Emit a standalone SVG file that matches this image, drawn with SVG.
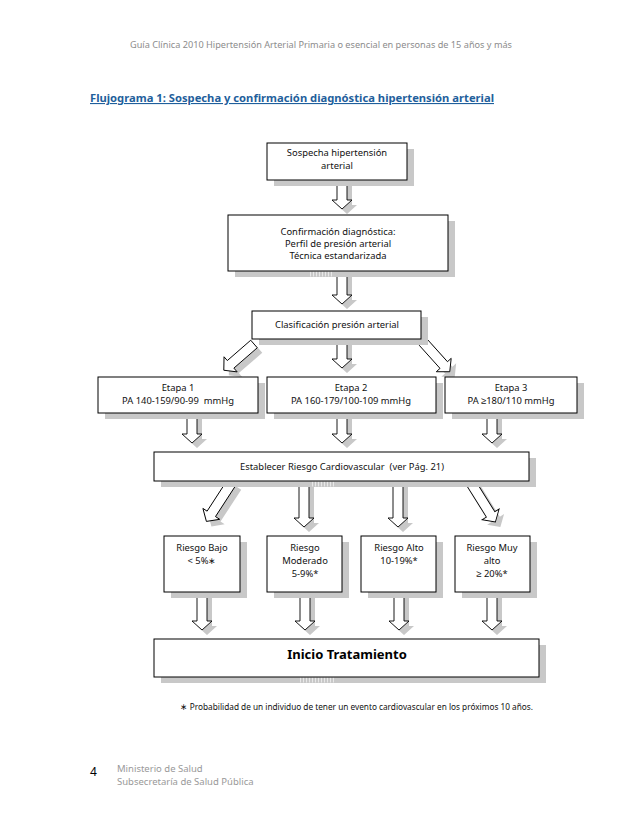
<svg xmlns="http://www.w3.org/2000/svg" xmlns:xlink="http://www.w3.org/1999/xlink" width="638" height="826" viewBox="0 0 638 826">
<style>
.bg{fill:#fff}
.box{fill:#fff;stroke:#000;stroke-width:1}
.bsh{fill:#c8c8c8}
.ash{fill:#c8c8c8;stroke:none}
.arr{fill:#fff;stroke:#000;stroke-width:0.9;stroke-linejoin:miter}
.t{font-family:"Noto Sans","Liberation Sans",sans-serif;font-size:9.4px;fill:#111;text-anchor:middle}
.big{font-family:"Noto Sans","Liberation Sans",sans-serif;font-size:13px;font-weight:bold;fill:#000;text-anchor:middle}
.hdr{font-family:"Noto Sans","Liberation Sans",sans-serif;font-size:9.5px;fill:#8c8c8c}
.ttl{font-family:"Noto Sans","Liberation Sans",sans-serif;font-size:11px;font-weight:bold;fill:#1f5f9c;text-decoration:underline}
.fn{font-family:"Noto Sans","Liberation Sans",sans-serif;font-size:8.6px;fill:#111}
.ft{font-family:"Noto Sans","Liberation Sans",sans-serif;font-size:9.5px;fill:#999}
.hatch{stroke:#e8e8e8;stroke-width:5;stroke-dasharray:1 2}
</style>
<defs>
<path id="a1" transform="translate(342,180)" d="M-5,0H5V20H10L0,29L-10,20H-5Z"/>
<path id="a2" transform="translate(342,271)" d="M-5,0H5V24H10L0,33L-10,24H-5Z"/>
<path id="a3" transform="translate(342,339)" d="M-5,0H5V20H10L0,29L-10,20H-5Z"/>
<path id="a4" transform="translate(254,344) rotate(49)" d="M-5,0H5V31H10L0,40L-10,31H-5Z"/>
<path id="a5" transform="translate(423,342) rotate(-42)" d="M-5,0H5V31H10L0,40L-10,31H-5Z"/>
<path id="a6" transform="translate(192,413)" d="M-5,0H5V21H10L0,30L-10,21H-5Z"/>
<path id="a7" transform="translate(342,413)" d="M-5,0H5V21H10L0,30L-10,21H-5Z"/>
<path id="a8" transform="translate(492,413)" d="M-5,0H5V21H10L0,30L-10,21H-5Z"/>
<path id="a9" transform="translate(232,482) rotate(33)" d="M-5,0H5V38H10L0,47L-10,38H-5Z"/>
<path id="a10" transform="translate(304,481)" d="M-5,0H5V37H10L0,46L-10,37H-5Z"/>
<path id="a11" transform="translate(398,481)" d="M-5,0H5V37H10L0,46L-10,37H-5Z"/>
<path id="a12" transform="translate(471,483) rotate(-32)" d="M-5,0H5V37H10L0,46L-10,37H-5Z"/>
<path id="a13" transform="translate(202,592)" d="M-5,0H5V29H10L0,38L-10,29H-5Z"/>
<path id="a14" transform="translate(305,592)" d="M-5,0H5V29H10L0,38L-10,29H-5Z"/>
<path id="a15" transform="translate(399,592)" d="M-5,0H5V29H10L0,38L-10,29H-5Z"/>
<path id="a16" transform="translate(492,592)" d="M-5,0H5V29H10L0,38L-10,29H-5Z"/>
</defs>
<rect class="bg" x="0" y="0" width="638" height="826"/>

<text class="hdr" x="321" y="48" text-anchor="middle" textLength="382" lengthAdjust="spacingAndGlyphs">Guía Clínica 2010 Hipertensión Arterial Primaria o esencial en personas de 15 años y más</text>
<text class="ttl" x="90" y="102" textLength="404" lengthAdjust="spacingAndGlyphs">Flujograma 1: Sospecha y confirmación diagnóstica hipertensión arterial</text>

<g id="connectors">
<g class="ash">
<use xlink:href="#a1" transform="translate(5,5)"/>
<use xlink:href="#a2" transform="translate(5,5)"/>
<use xlink:href="#a3" transform="translate(5,5)"/>
<use xlink:href="#a4" transform="translate(5,5)"/>
<use xlink:href="#a5" transform="translate(5,5)"/>
<use xlink:href="#a6" transform="translate(5,5)"/>
<use xlink:href="#a7" transform="translate(5,5)"/>
<use xlink:href="#a8" transform="translate(5,5)"/>
<use xlink:href="#a9" transform="translate(5,5)"/>
<use xlink:href="#a10" transform="translate(5,5)"/>
<use xlink:href="#a11" transform="translate(5,5)"/>
<use xlink:href="#a12" transform="translate(5,5)"/>
<use xlink:href="#a13" transform="translate(5,5)"/>
<use xlink:href="#a14" transform="translate(5,5)"/>
<use xlink:href="#a15" transform="translate(5,5)"/>
<use xlink:href="#a16" transform="translate(5,5)"/>
</g>
<g class="arr">
<use xlink:href="#a1"/>
<use xlink:href="#a2"/>
<use xlink:href="#a3"/>
<use xlink:href="#a4"/>
<use xlink:href="#a5"/>
<use xlink:href="#a6"/>
<use xlink:href="#a7"/>
<use xlink:href="#a8"/>
<use xlink:href="#a9"/>
<use xlink:href="#a10"/>
<use xlink:href="#a11"/>
<use xlink:href="#a12"/>
<use xlink:href="#a13"/>
<use xlink:href="#a14"/>
<use xlink:href="#a15"/>
<use xlink:href="#a16"/>
</g>
</g>

<g id="n-sospecha">
<rect class="bsh" x="274" y="149" width="140" height="37"/>
<rect class="box" x="267" y="143" width="140" height="37"/>
<text class="t" x="337" y="156">Sospecha hipertensión</text>
<text class="t" x="337" y="169">arterial</text>
</g>

<g id="n-confirmacion">
<rect class="bsh" x="235" y="221" width="220" height="56"/>
<line class="hatch" x1="310" y1="274" x2="334" y2="274"/>
<rect class="box" x="228" y="215" width="220" height="56"/>
<text class="t" x="338" y="235">Confirmación diagnóstica:</text>
<text class="t" x="338" y="247">Perfil de presión arterial</text>
<text class="t" x="338" y="259">Técnica estandarizada</text>
</g>

<g id="n-clasificacion">
<rect class="bsh" x="259" y="317" width="169" height="28"/>
<rect class="box" x="252" y="311" width="169" height="28"/>
<text class="t" x="337" y="328">Clasificación presión arterial</text>
</g>

<g id="n-etapa1">
<rect class="bsh" x="105" y="383" width="160" height="36"/>
<rect class="box" x="98" y="377" width="160" height="36"/>
<text class="t" x="178" y="391">Etapa 1</text>
<text class="t" x="178" y="404" xml:space="preserve">PA 140-159/90-99  mmHg</text>
</g>

<g id="n-etapa2">
<rect class="bsh" x="274" y="383" width="169" height="36"/>
<rect class="box" x="267" y="377" width="169" height="36"/>
<text class="t" x="351" y="391">Etapa 2</text>
<text class="t" x="351" y="404">PA 160-179/100-109 mmHg</text>
</g>

<g id="n-etapa3">
<rect class="bsh" x="452" y="383" width="132" height="36"/>
<rect class="box" x="445" y="377" width="132" height="36"/>
<text class="t" x="511" y="391">Etapa 3</text>
<text class="t" x="511" y="404">PA ≥180/110 mmHg</text>
</g>

<g id="n-establecer">
<rect class="bsh" x="161" y="458" width="375" height="29"/>
<line class="hatch" x1="312" y1="484" x2="334" y2="484"/>
<rect class="box" x="154" y="452" width="375" height="29"/>
<text class="t" x="342" y="470" xml:space="preserve">Establecer Riesgo Cardiovascular  (ver Pág. 21)</text>
</g>

<g id="n-bajo">
<rect class="bsh" x="171" y="542" width="76" height="56"/>
<rect class="box" x="164" y="536" width="76" height="56"/>
<text class="t" x="202" y="551">Riesgo Bajo</text>
<text class="t" x="202" y="564">&lt; 5%∗</text>
</g>

<g id="n-moderado">
<rect class="bsh" x="274" y="542" width="75" height="56"/>
<rect class="box" x="267" y="536" width="75" height="56"/>
<text class="t" x="305" y="551">Riesgo</text>
<text class="t" x="305" y="564">Moderado</text>
<text class="t" x="305" y="577">5-9%*</text>
</g>

<g id="n-alto">
<rect class="bsh" x="368" y="542" width="75" height="56"/>
<rect class="box" x="361" y="536" width="75" height="56"/>
<text class="t" x="399" y="551">Riesgo Alto</text>
<text class="t" x="399" y="564">10-19%*</text>
</g>

<g id="n-muyalto">
<rect class="bsh" x="462" y="542" width="75" height="56"/>
<rect class="box" x="455" y="536" width="75" height="56"/>
<text class="t" x="492" y="551">Riesgo Muy</text>
<text class="t" x="492" y="564">alto</text>
<text class="t" x="492" y="577">≥ 20%*</text>
</g>

<g id="n-inicio">
<rect class="bsh" x="161" y="645" width="385" height="38"/>
<line class="hatch" x1="300" y1="680" x2="334" y2="680"/>
<rect class="box" x="154" y="639" width="385" height="38"/>
<text class="big" x="347" y="659">Inicio Tratamiento</text>
</g>

<text class="fn" x="180" y="710" textLength="353" lengthAdjust="spacingAndGlyphs">∗ Probabilidad de un individuo de tener un evento cardiovascular en los próximos 10 años.</text>

<text x="90" y="776" font-family="Noto Sans, Liberation Sans, sans-serif" font-size="12" fill="#000">4</text>
<text class="ft" x="117" y="772">Ministerio de Salud</text>
<text class="ft" x="117" y="785">Subsecretaría de Salud Pública</text>
</svg>
